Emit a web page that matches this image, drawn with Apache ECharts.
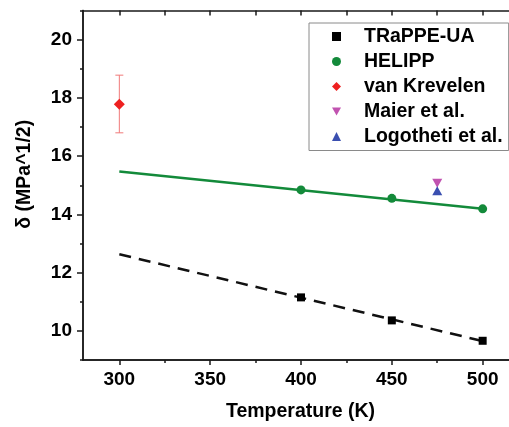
<!DOCTYPE html>
<html>
<head>
<meta charset="utf-8">
<script src="https://cdn.jsdelivr.net/npm/echarts@6/dist/echarts.min.js"></script>
<style>html,body{margin:0;padding:0;background:#fff}#c{width:509px;height:427px}</style>
</head>
<body>
<div id="c"></div>
<script>
// ---- data ----
const trappeT = [400, 450, 500];
const trappeD = [11.15, 10.36, 9.66];
const trappeFitT = [300, 500];
const trappeFitD = [12.63, 9.65];
const helippT = [400, 450, 500];
const helippD = [14.84, 14.55, 14.19];
const helippFitT = [300, 500];
const helippFitD = [15.47, 14.19];
const vanKrevelenT = [300];
const vanKrevelenD = [17.78];
const vanKrevelenLow = [16.8];
const vanKrevelenHigh = [18.78];
const maierT = [475];
const maierD = [15.07];
const logothetiT = [475];
const logothetiD = [14.81];
const xMajorTicks = [300, 350, 400, 450, 500];
const xMinorTicks = [325, 375, 425, 475];
const xTopTicks = [300, 325, 350, 375, 400, 425, 450, 475, 500];
const yMajorTicks = [10, 12, 14, 16, 18, 20];
const yMinorTicks = [9, 11, 13, 15, 17, 19, 21];
const legendNames = ['TRaPPE-UA', 'HELIPP', 'van Krevelen', 'Maier et al.', 'Logotheti et al.'];

const zip = (a, b) => a.map((v, i) => [v, b[i]]);
const FONT = 'Liberation Sans';
const AX = '#1a1a1a';
const XMIN = 280, XMAX = 514.5, YMIN = 9, YMAX = 21;
const DOWN_TRI = 'path://M0,0L10,0L5,9Z';

const chart = echarts.init(document.getElementById('c'), null, {renderer: 'canvas'});
const baseX = {type: 'value', min: XMIN, max: XMAX, splitLine: {show: false},
  axisLine: {lineStyle: {color: AX, width: 1.5}}};
const baseY = {type: 'value', min: YMIN, max: YMAX, splitLine: {show: false},
  axisLine: {lineStyle: {color: AX, width: 1.5}}};

chart.setOption({
  animation: false,
  textStyle: {fontFamily: FONT},
  grid: {left: 83, top: 10.5, right: 0, bottom: 65, containLabel: false},
  xAxis: [
    Object.assign({}, baseX, {
      position: 'bottom',
      name: 'Temperature (K)', nameLocation: 'middle', nameGap: 42,
      nameTextStyle: {fontFamily: FONT, fontWeight: 'bold', fontSize: 19.5, color: '#000', padding: [0, 0, 0, 9]},
      axisTick: {show: true, length: 5, inside: false, customValues: xMajorTicks, lineStyle: {color: AX, width: 1.5}},
      axisLabel: {customValues: xMajorTicks, margin: 10, fontFamily: FONT, fontWeight: 'bold', fontSize: 19, color: '#000'}
    }),
    Object.assign({}, baseX, {
      position: 'bottom',
      axisTick: {show: true, length: 3, inside: false, customValues: xMinorTicks, lineStyle: {color: AX, width: 1.5}},
      axisLabel: {show: false}
    }),
    Object.assign({}, baseX, {
      position: 'top',
      axisTick: {show: true, length: 5, inside: true, customValues: xTopTicks, lineStyle: {color: AX, width: 1.5}},
      axisLabel: {show: false}
    })
  ],
  yAxis: [
    Object.assign({}, baseY, {
      position: 'left',
      name: 'δ (MPa^1/2)', nameLocation: 'middle', nameGap: 48, nameRotate: 90,
      nameTextStyle: {fontFamily: FONT, fontWeight: 'bold', fontSize: 19.5, color: '#000', padding: [0, 0, 0, 22]},
      axisTick: {show: true, length: 6, inside: false, customValues: yMajorTicks, lineStyle: {color: AX, width: 1.5}},
      axisLabel: {customValues: yMajorTicks, margin: 11, fontFamily: FONT, fontWeight: 'bold', fontSize: 19, color: '#000'}
    }),
    Object.assign({}, baseY, {
      position: 'left',
      axisTick: {show: true, length: 3, inside: false, customValues: yMinorTicks, lineStyle: {color: AX, width: 1.5}},
      axisLabel: {show: false}
    })
  ],
  legend: {
    data: legendNames.map(n => n === 'Maier et al.' ? {name: n, icon: DOWN_TRI} : n),
    orient: 'vertical', left: 309, top: 23, width: 196,
    backgroundColor: '#fff', borderColor: '#8a8a8a', borderWidth: 1,
    padding: [3.5, 6, 4, 23], itemGap: 5, itemWidth: 9, itemHeight: 9,
    textStyle: {fontFamily: FONT, fontWeight: 'bold', fontSize: 19.5, color: '#000', lineHeight: 20, padding: [0, 0, 0, 18]},
    selectedMode: false
  },
  series: [
    {type: 'line', name: 'TRaPPE fit', data: zip(trappeFitT, trappeFitD), showSymbol: false, symbol: 'none',
      lineStyle: {color: '#111', width: 2.5, type: [12, 8]}, z: 2, silent: true},
    {type: 'line', name: 'HELIPP fit', data: zip(helippFitT, helippFitD), showSymbol: false, symbol: 'none',
      lineStyle: {color: '#138a3a', width: 2.5}, z: 2, silent: true},
    {type: 'custom', name: 'vk err', data: vanKrevelenT.map((t, i) => [t, vanKrevelenLow[i], vanKrevelenHigh[i]]),
      renderItem: function (params, api) {
        const lo = api.coord([api.value(0), api.value(1)]);
        const hi = api.coord([api.value(0), api.value(2)]);
        const w = 4;
        const st = {stroke: '#f07a7a', lineWidth: 1, fill: null};
        return {type: 'group', children: [
          {type: 'line', shape: {x1: lo[0], y1: lo[1], x2: hi[0], y2: hi[1]}, style: st},
          {type: 'line', shape: {x1: lo[0] - w, y1: lo[1], x2: lo[0] + w, y2: lo[1]}, style: st},
          {type: 'line', shape: {x1: hi[0] - w, y1: hi[1], x2: hi[0] + w, y2: hi[1]}, style: st}
        ]};
      }, z: 3, silent: true},
    {type: 'scatter', name: 'TRaPPE-UA', data: zip(trappeT, trappeD), symbol: 'rect', symbolSize: 8,
      itemStyle: {color: '#000', opacity: 1}, z: 5},
    {type: 'scatter', name: 'HELIPP', data: zip(helippT, helippD), symbol: 'circle', symbolSize: 9,
      itemStyle: {color: '#138a3a', opacity: 1}, z: 5},
    {type: 'scatter', name: 'van Krevelen', data: zip(vanKrevelenT, vanKrevelenD), symbol: 'diamond', symbolSize: 11,
      itemStyle: {color: '#ee2020', opacity: 1}, z: 5},
    {type: 'scatter', name: 'Maier et al.', data: zip(maierT, maierD), symbol: DOWN_TRI, symbolSize: [10, 9],
      itemStyle: {color: '#c153b0', opacity: 1}, z: 5},
    {type: 'scatter', name: 'Logotheti et al.', data: zip(logothetiT, logothetiD), symbol: 'triangle', symbolSize: [10, 9],
      itemStyle: {color: '#3a4fb0', opacity: 1}, z: 5}
  ]
});
</script>
</body>
</html>
